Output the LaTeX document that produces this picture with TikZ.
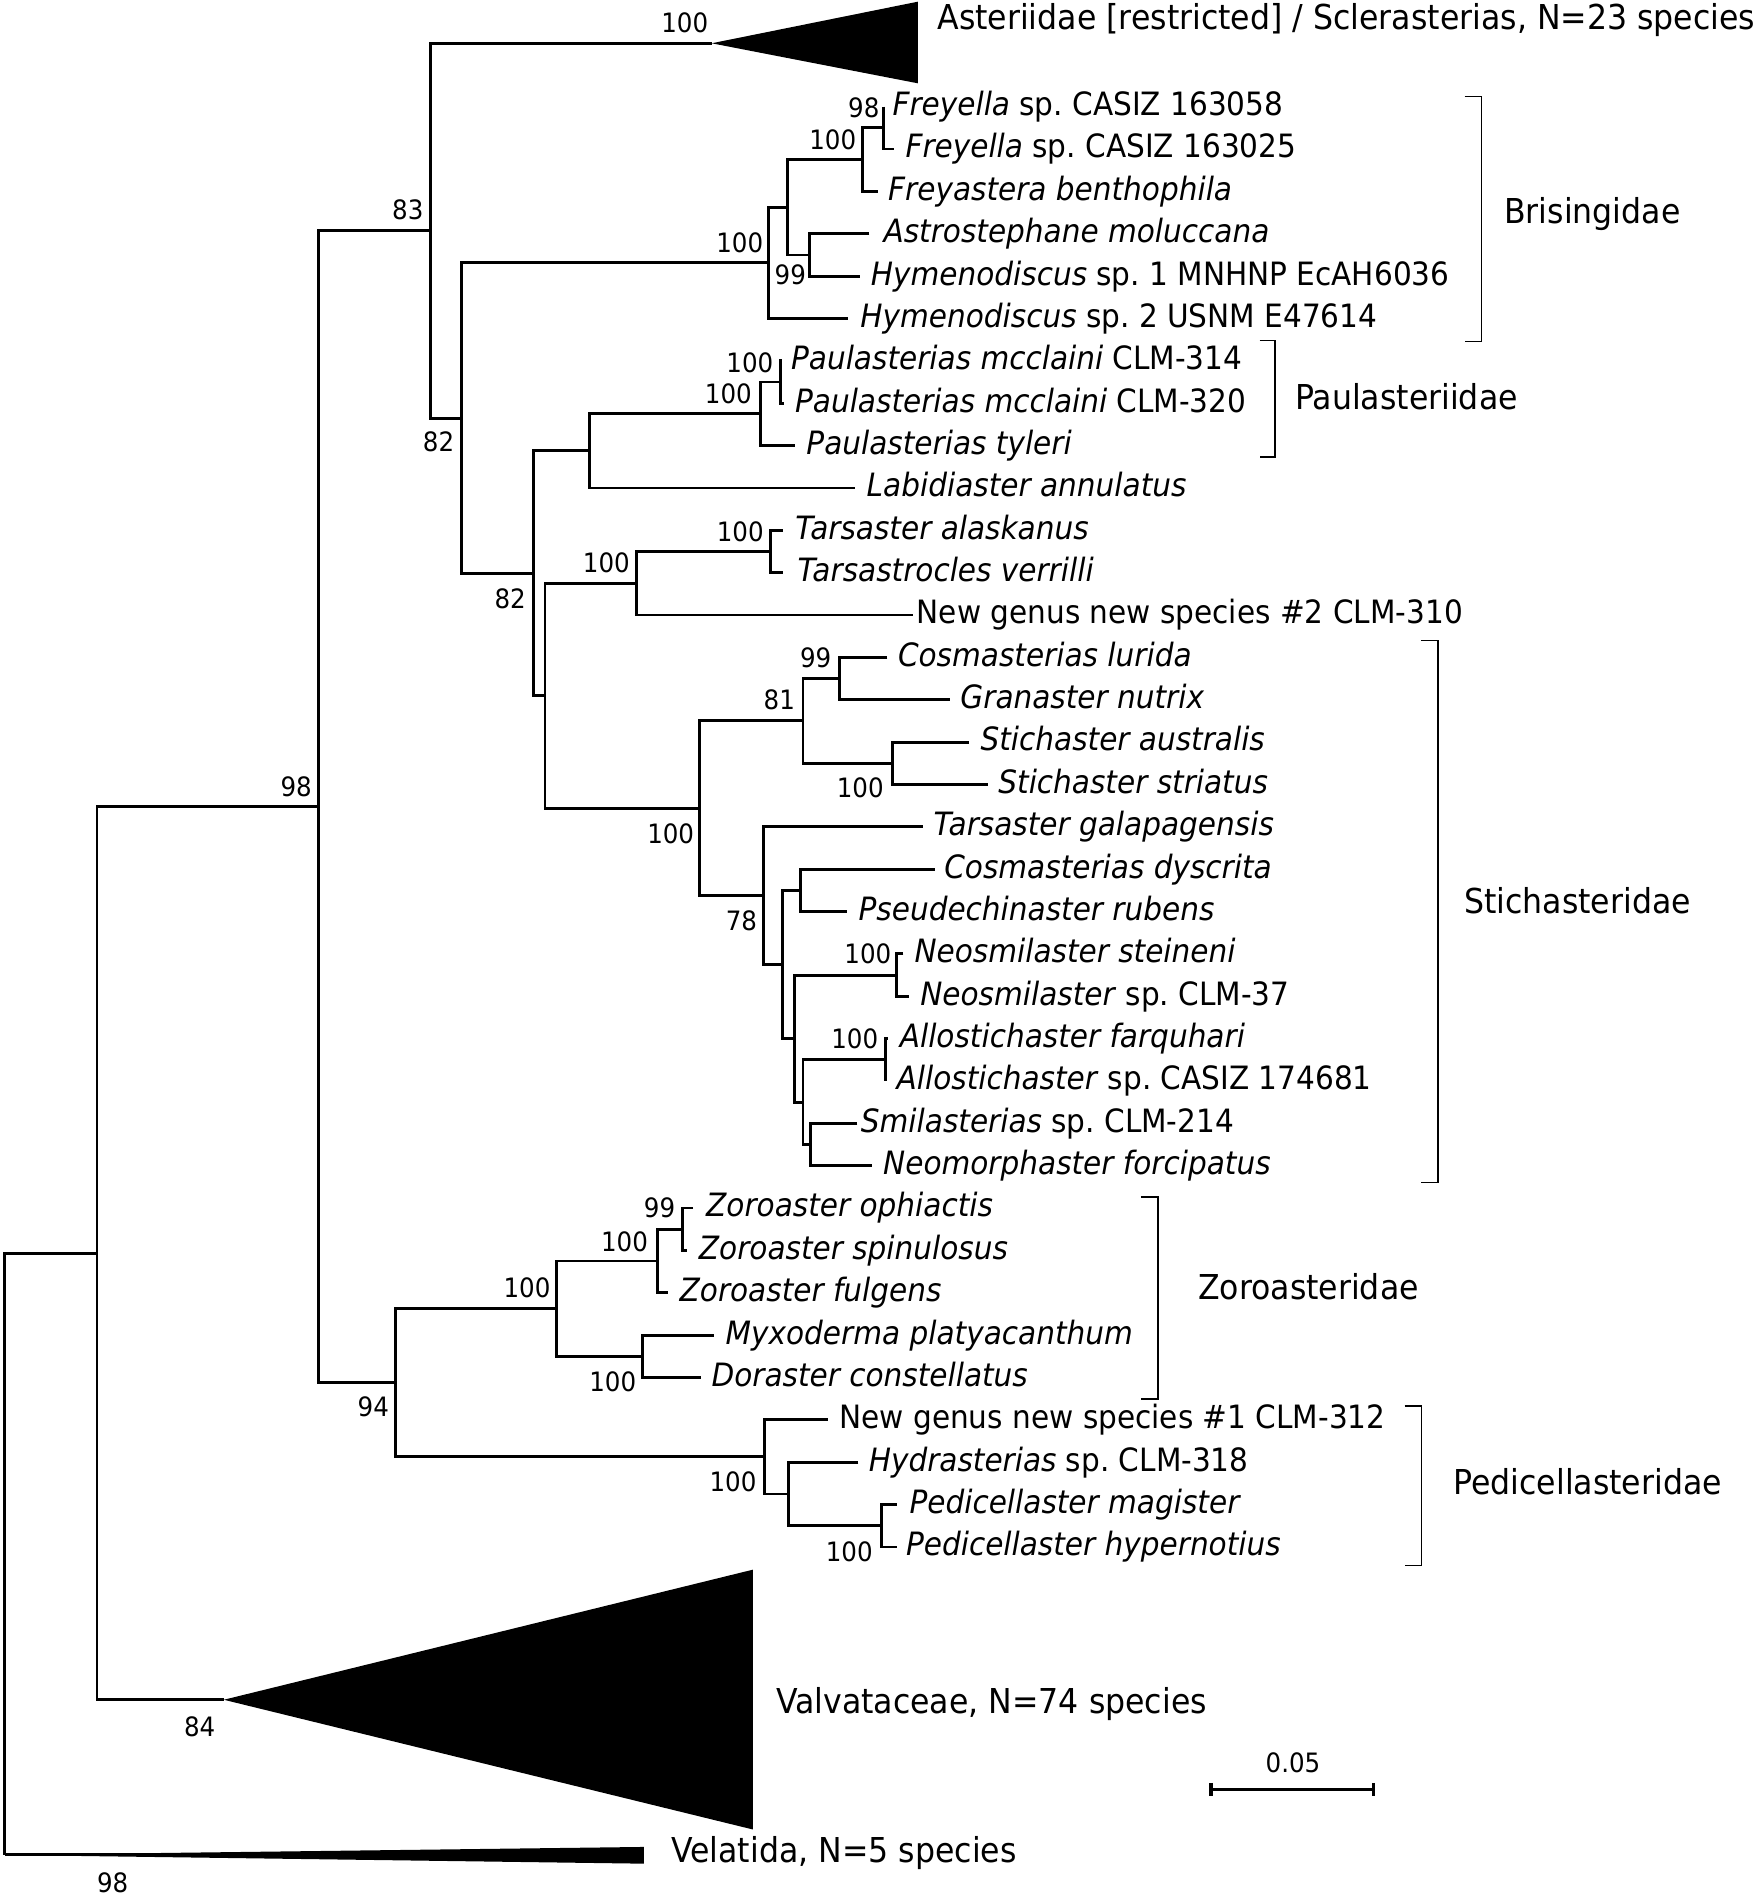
\documentclass[tikz,border=0pt]{standalone}
\usepackage{fontspec}
\setmainfont{DejaVu Sans}[FakeStretch=0.92]
\usetikzlibrary{calc}
\frenchspacing
\newcommand\inode[4]{%
  \path ($(#3)!0.5!(#4)$) coordinate (#1tmp);
  \coordinate (#1) at (#2,0 |- #1tmp);
  \draw[br] (#3) -- (#3 -| #1) -- (#4 -| #1) -- (#4);
}
\newcommand\lab[4]{%
  \node[sp] (#1) at ($(#3 -| #2,0)+(0,7.3)$) {#4};
}
\begin{document}
\begin{tikzpicture}[x=1pt,y=-1pt,
  br/.style={line width=2.4pt, line cap=butt, line join=miter},
  brk/.style={line width=1.3pt, line join=miter},
  sp/.style={anchor=base west, inner sep=0pt, font=\fontsize{26.5}{30}\selectfont},
  bs/.style={inner sep=0pt, font=\fontsize{22}{26}\selectfont},
  fam/.style={anchor=base west, inner sep=0pt, font=\fontsize{28.3}{32}\selectfont}]
\useasboundingbox (0,0) rectangle (1449,1568);
% tips
\coordinate (t0) at (729,88.0);
\coordinate (t1) at (737.5,122.9);
\coordinate (t2) at (724,157.9);
\coordinate (t3) at (717,192.8);
\coordinate (t4) at (709,227.8);
\coordinate (t5) at (699.7,262.7);
\coordinate (t6) at (645,297.6);
\coordinate (t7) at (647,332.6);
\coordinate (t8) at (655.7,367.5);
\coordinate (t9) at (705.4,402.5);
\coordinate (t10) at (645.8,437.4);
\coordinate (t11) at (645.8,472.3);
\coordinate (t12) at (753.2,507.3);
\coordinate (t13) at (731.9,542.2);
\coordinate (t14) at (783.4,577.2);
\coordinate (t15) at (799.3,612.1);
\coordinate (t16) at (815,647.0);
\coordinate (t17) at (761.3,682.0);
\coordinate (t18) at (770.9,716.9);
\coordinate (t19) at (698.7,751.9);
\coordinate (t20) at (745.2,786.8);
\coordinate (t21) at (749.6,821.7);
\coordinate (t22) at (732.3,856.7);
\coordinate (t23) at (730.4,891.6);
\coordinate (t24) at (707.2,926.6);
\coordinate (t25) at (719.4,961.5);
\coordinate (t26) at (571.8,996.4);
\coordinate (t27) at (566.3,1031.4);
\coordinate (t28) at (550.6,1066.3);
\coordinate (t29) at (588.8,1101.3);
\coordinate (t30) at (577.8,1136.2);
\coordinate (t31) at (682.8,1171.1);
\coordinate (t32) at (708.1,1206.1);
\coordinate (t33) at (739.7,1241.0);
\coordinate (t34) at (739.7,1276.0);
\coordinate (cA) at (587,35.7);
\coordinate (cV) at (184.6,1402);
\coordinate (cW) at (4,1530);
% internal nodes and branches
\inode{nFr}{729}{t0}{t1}
\inode{nFrb}{711.5}{nFr}{t2}
\inode{nHy}{667.5}{t3}{t4}
\inode{nBa}{649.5}{nFrb}{nHy}
\inode{nBr}{634}{nBa}{t5}
\inode{nPa}{644}{t6}{t7}
\inode{nPb}{627}{nPa}{t8}
\inode{nLa}{486.5}{nPb}{t9}
\inode{nTa}{635.4}{t10}{t11}
\inode{nNg}{525}{nTa}{t12}
\inode{nCo}{692.5}{t13}{t14}
\inode{nSt}{736}{t15}{t16}
\inode{nEi}{662.3}{nCo}{nSt}
\inode{nPs}{660.1}{t18}{t19}
\inode{nNe}{739.6}{t20}{t21}
\inode{nAl}{730.4}{t22}{t23}
\inode{nSm}{668.6}{t24}{t25}
\inode{nAS}{662.3}{nAl}{nSm}
\inode{nNS}{655.6}{nNe}{nAS}
\inode{nPN}{645.4}{nPs}{nNS}
\inode{nSe}{629.9}{t17}{nPN}
\inode{nSx}{577.3}{nEi}{nSe}
\inode{nX}{449.5}{nNg}{nSx}
\inode{nEb}{440.3}{nLa}{nX}
\inode{nEa}{381}{nBr}{nEb}
\inode{nEt}{355}{cA}{nEa}
\inode{nZa}{562.7}{t26}{t27}
\inode{nZb}{542}{nZa}{t28}
\inode{nMy}{529.7}{t29}{t30}
\inode{nZo}{459.1}{nZb}{nMy}
\inode{nPm}{727.1}{t33}{t34}
\inode{nHd}{650.1}{t32}{nPm}
\inode{nPe}{630.3}{t31}{nHd}
\inode{nNf}{326.3}{nZo}{nPe}
\inode{nNn}{262.7}{nEt}{nNf}
\inode{nEf}{80}{nNn}{cV}
\inode{nR}{4}{nEf}{cW}
% collapsed clades
\coordinate (cAt) at (757,1.4);
\coordinate (cAb) at (757,68.7);
\fill (cA) -- (cAt) -- (cAb) -- cycle;
\coordinate (cVt) at (621,1294.7);
\coordinate (cVb) at (621,1509);
\fill (cV) -- (cVt) -- (cVb) -- cycle;
\coordinate (cWt) at (531,1523.4);
\coordinate (cWb) at (531,1537.2);
\coordinate (cWm) at (531,1530);
\draw[br] (cW) -- (cWm);
\fill (cW) -- (cWt) -- (cWb) -- cycle;
% tip labels
\lab{l0}{736}{t0}{\textit{Freyella} sp. CASIZ 163058}
\lab{l1}{746.7}{t1}{\textit{Freyella} sp. CASIZ 163025}
\lab{l2}{732.4}{t2}{\textit{Freyastera benthophila}}
\lab{l3}{728.6}{t3}{\textit{Astrostephane moluccana}}
\lab{l4}{718.1}{t4}{\textit{Hymenodiscus} sp. 1 MNHNP EcAH6036}
\lab{l5}{709.5}{t5}{\textit{Hymenodiscus} sp. 2 USNM E47614}
\lab{l6}{652.3}{t6}{\textit{Paulasterias mcclaini} CLM-314}
\lab{l7}{655.6}{t7}{\textit{Paulasterias mcclaini} CLM-320}
\lab{l8}{665}{t8}{\textit{Paulasterias tyleri}}
\lab{l9}{714.7}{t9}{\textit{Labidiaster annulatus}}
\lab{l10}{655.8}{t10}{\textit{Tarsaster alaskanus}}
\lab{l11}{657.6}{t11}{\textit{Tarsastrocles verrilli}}
\lab{l12}{756}{t12}{New genus new species \#2 CLM-310}
\lab{l13}{740.5}{t13}{\textit{Cosmasterias lurida}}
\lab{l14}{792}{t14}{\textit{Granaster nutrix}}
\lab{l15}{808.6}{t15}{\textit{Stichaster australis}}
\lab{l16}{823.3}{t16}{\textit{Stichaster striatus}}
\lab{l17}{769.9}{t17}{\textit{Tarsaster galapagensis}}
\lab{l18}{778.7}{t18}{\textit{Cosmasterias dyscrita}}
\lab{l19}{708}{t19}{\textit{Pseudechinaster rubens}}
\lab{l20}{754.1}{t20}{\textit{Neosmilaster steineni}}
\lab{l21}{758.9}{t21}{\textit{Neosmilaster} sp. CLM-37}
\lab{l22}{742}{t22}{\textit{Allostichaster farquhari}}
\lab{l23}{739.4}{t23}{\textit{Allostichaster} sp. CASIZ 174681}
\lab{l24}{709.9}{t24}{\textit{Smilasterias} sp. CLM-214}
\lab{l25}{728.3}{t25}{\textit{Neomorphaster forcipatus}}
\lab{l26}{582.3}{t26}{\textit{Zoroaster ophiactis}}
\lab{l27}{576.3}{t27}{\textit{Zoroaster spinulosus}}
\lab{l28}{560.4}{t28}{\textit{Zoroaster fulgens}}
\lab{l29}{598.3}{t29}{\textit{Myxoderma platyacanthum}}
\lab{l30}{586.7}{t30}{\textit{Doraster constellatus}}
\lab{l31}{692.2}{t31}{New genus new species \#1 CLM-312}
\lab{l32}{716.4}{t32}{\textit{Hydrasterias} sp. CLM-318}
\lab{l33}{750}{t33}{\textit{Pedicellaster magister}}
\lab{l34}{747.1}{t34}{\textit{Pedicellaster hypernotius}}
% collapsed clade labels
\node[fam] (lA) at (773,24.2) {Asteriidae [restricted] / Sclerasterias, N=23 species};
\node[fam] (lV) at (640,1413) {Valvataceae, N=74 species};
\node[fam] (lW) at (553.5,1536.6) {Velatida, N=5 species};
% bootstrap values
\node[bs] (b1) at (564.8,19.0) {100};
\node[bs] (b2) at (336.4,172.9) {83};
\node[bs] (b3) at (712.5,89.3) {98};
\node[bs] (b4) at (686.9,115.5) {100};
\node[bs] (b5) at (610.2,200) {100};
\node[bs] (b6) at (651.9,226.8) {99};
\node[bs] (b7) at (618.5,299.1) {100};
\node[bs] (b8) at (600.8,324.7) {100};
\node[bs] (b9) at (361.7,364.2) {82};
\node[bs] (b10) at (610.6,438.4) {100};
\node[bs] (b11) at (500.1,464.6) {100};
\node[bs] (b12) at (420.8,494.1) {82};
\node[bs] (b13) at (672.8,542.6) {99};
\node[bs] (b14) at (642.8,577.3) {81};
\node[bs] (b15) at (709.6,649.4) {100};
\node[bs] (b16) at (553.2,687.9) {100};
\node[bs] (b17) at (611.5,759.4) {78};
\node[bs] (b18) at (715.8,787.1) {100};
\node[bs] (b19) at (705,857.2) {100};
\node[bs] (b20) at (244.3,648.7) {98};
\node[bs] (b21) at (544,996.5) {99};
\node[bs] (b22) at (515.1,1024) {100};
\node[bs] (b23) at (434.7,1062) {100};
\node[bs] (b24) at (505.4,1139.7) {100};
\node[bs] (b25) at (307.9,1160.7) {94};
\node[bs] (b26) at (604.6,1222.6) {100};
\node[bs] (b27) at (700.5,1279.6) {100};
\node[bs] (b28) at (164.7,1424.2) {84};
\node[bs] (b29) at (93,1552.8) {98};
% family brackets
\draw[brk] (1208,79.7) -- (1222,79.7) -- (1222,281.8) -- (1208,281.8);
\node[fam] (fB) at (1240.5,184.7) {Brisingidae};
\draw[brk] (1039,281) -- (1051.6,281) -- (1051.6,377.1) -- (1039,377.1);
\node[fam] (fP) at (1068,338) {Paulasteriidae};
\draw[brk] (1172,528.3) -- (1186,528.3) -- (1186,975.3) -- (1172,975.3);
\node[fam] (fS) at (1207.5,753.7) {Stichasteridae};
\draw[brk] (941,987.4) -- (955,987.4) -- (955,1154) -- (941,1154);
\node[fam] (fZ) at (988,1072) {Zoroasteridae};
\draw[brk] (1158.5,1159.5) -- (1172.5,1159.5) -- (1172.5,1291.4) -- (1158.5,1291.4);
\node[fam] (fD) at (1198.5,1232.3) {Pedicellasteridae};
% scale bar
\coordinate (sbA) at (999,1476);
\coordinate (sbB) at (1133,1476);
\draw[line width=3pt] (sbA) -- (sbB);
\draw[line width=3pt] ($(sbA)+(0,-5.5)$) -- ($(sbA)+(0,5.5)$);
\draw[line width=3pt] ($(sbB)+(0,-5.5)$) -- ($(sbB)+(0,5.5)$);
\node[bs] (sbL) at (1066.5,1454) {0.05};
\end{tikzpicture}
\end{document}
